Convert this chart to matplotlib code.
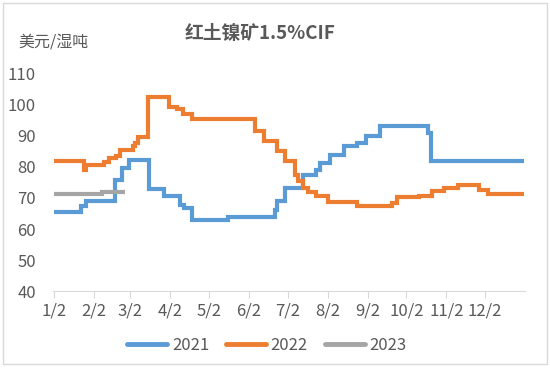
import matplotlib
matplotlib.use("Agg")
import matplotlib.pyplot as plt
from matplotlib.patches import Rectangle

plt.rcParams['font.family'] = ['Noto Sans CJK SC', 'DejaVu Sans']

# day index: 1 = Jan 2, ... 365 = Dec 31
tick_days = [1, 32, 60, 91, 121, 152, 182, 213, 244, 274, 305, 335]
tick_labels = ["1/2", "2/2", "3/2", "4/2", "5/2", "6/2", "7/2", "8/2", "9/2", "10/2", "11/2", "12/2"]

days_2021 = [1, 22, 26, 48, 54, 59, 75, 86, 99, 102, 108, 136, 172, 174, 180, 194, 204, 207,
             215, 226, 236, 243, 254, 291, 293, 365]
vals_2021 = [65.5, 67.3, 69.0, 75.7, 79.7, 82.2, 73.0, 70.8, 67.8, 66.8, 63.0, 63.8, 66.0, 68.9,
             73.2, 77.3, 79.1, 81.3, 83.8, 86.9, 87.7, 90.1, 93.1, 91.0, 81.8, 81.8]

days_2022 = [1, 24, 26, 40, 44, 49, 52, 62, 64, 66, 74, 90, 96, 101, 108, 157, 164, 174, 180,
             188, 190, 194, 198, 204, 213, 236, 263, 267, 284, 294, 303, 314, 330, 337, 365]
vals_2022 = [81.8, 79.1, 80.8, 81.6, 82.9, 83.4, 85.6, 86.7, 87.7, 89.6, 102.5, 99.5, 98.6, 97.2,
             95.6, 91.5, 88.3, 85.1, 81.8, 77.5, 75.4, 73.2, 71.9, 70.8, 68.7, 67.3, 68.4, 70.2,
             70.8, 72.2, 73.2, 74.3, 72.7, 71.3, 71.3]

days_2023 = [1, 38, 56]
vals_2023 = [71.3, 71.9, 71.9]

series = [("2021", days_2021, vals_2021, "#5B9BD5"),
          ("2022", days_2022, vals_2022, "#ED7D31"),
          ("2023", days_2023, vals_2023, "#A5A5A5")]

txt = "#595959"
fig = plt.figure(figsize=(5.5, 3.68), dpi=100)
ax = fig.add_axes([0.0958, 0.2092, 0.8587, 0.5898])

for name, d, v, c in series:
    ax.plot(d, v, color=c, lw=3, drawstyle='steps-post', label=name,
            solid_joinstyle='miter', solid_capstyle='butt')

ax.set_xlim(0, 366)
ax.set_ylim(40, 110)
ax.set_yticks(range(40, 111, 10))
ax.set_xticks(tick_days)
ax.set_xticklabels(tick_labels)
for s in ['top', 'right', 'left']:
    ax.spines[s].set_visible(False)
ax.spines['bottom'].set_color('#D9D9D9')
ax.tick_params(axis='x', direction='out', length=5, color='#D9D9D9', labelsize=12,
               labelcolor=txt, pad=3)
ax.tick_params(axis='y', length=0, labelsize=12, labelcolor=txt, pad=12)

fig.text(0.473, 0.91, "红土镍矿1.5%CIF", ha='center', va='center', fontsize=13.5,
         fontweight='bold', color=txt)
fig.text(0.033, 0.885, "美元/湿吨", ha='left', va='center', fontsize=11.5, color=txt)

leg = fig.legend(loc='center', bbox_to_anchor=(0.485, 0.062), ncol=3, frameon=False,
                 fontsize=12, handlelength=2.4, handletextpad=0.3, columnspacing=1.0)
for t in leg.get_texts():
    t.set_color(txt)
for h in leg.get_lines():
    h.set_linewidth(3.5)
    h.set_solid_capstyle('round')

fig.patches.append(Rectangle((0.006, 0.011), 0.988, 0.98, transform=fig.transFigure,
                             fill=False, edgecolor='#D9D9D9', lw=1))

fig.savefig("out.png", dpi=100)
